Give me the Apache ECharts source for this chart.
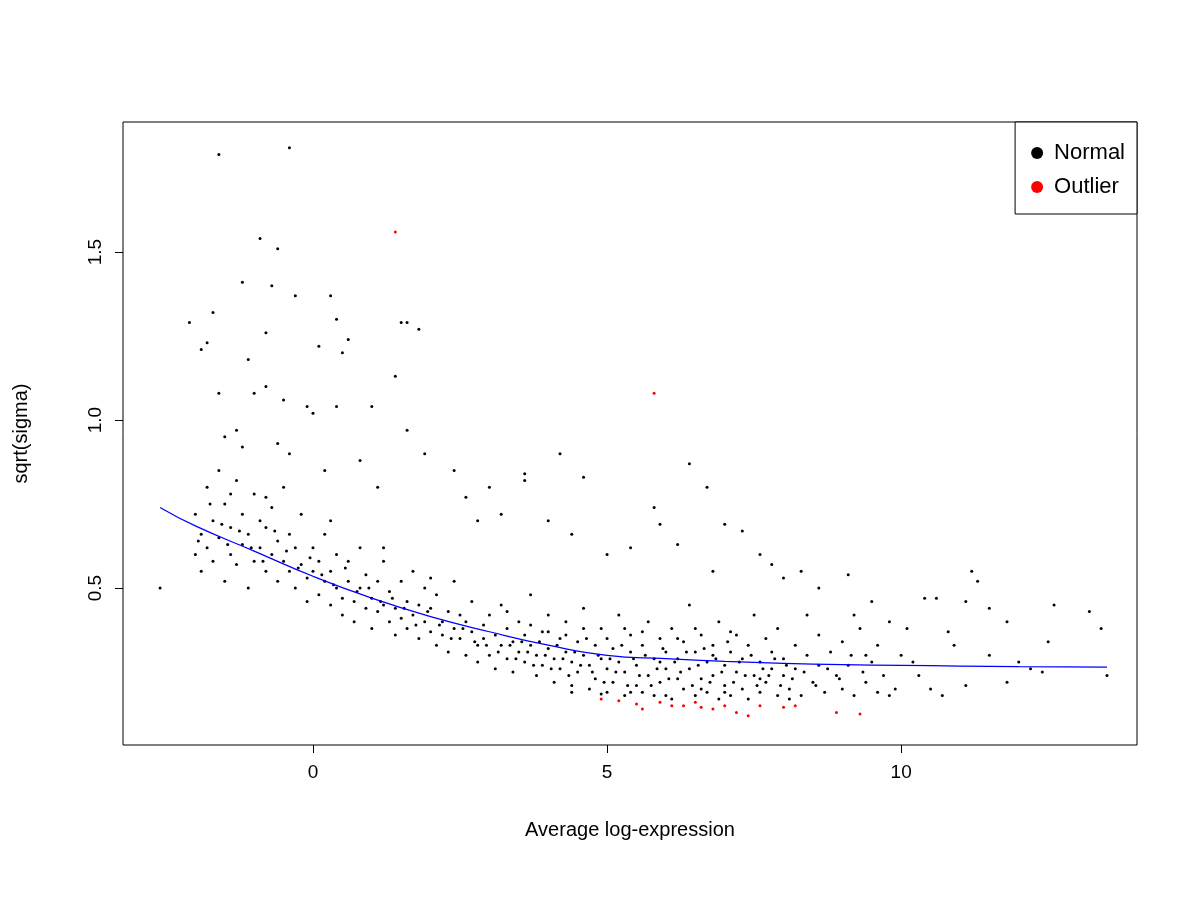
<!DOCTYPE html><html><head><meta charset="utf-8"><script src="https://cdn.jsdelivr.net/npm/echarts@6/dist/echarts.min.js"></script>
<style>body{margin:0}#c{width:1200px;height:900px}</style></head><body><div id="c"></div><script>
const xTicks=[0,5,10];
const yTicks=[0.5,1.0,1.5];
const normalSparse=[[-1.6,1.79],[-0.4,1.81],[-0.9,1.54],[-0.6,1.51],[-1.2,1.41],[-0.7,1.40],[-0.3,1.37],[0.3,1.37],[-2.1,1.29],[-1.7,1.32],[-1.9,1.21],[-1.8,1.23],[-1.1,1.18],[-0.8,1.26],[0.4,1.30],[0.6,1.24],[0.1,1.22],[0.5,1.20],[1.5,1.29],[1.6,1.29],[1.8,1.27],[1.4,1.13],[-1.6,1.08],[-0.8,1.10],[-1.0,1.08],[-0.5,1.06],[-0.1,1.04],[0,1.02],[0.4,1.04],[1.0,1.04],[1.6,0.97],[3.6,0.84],[3.6,0.82],[4.2,0.90],[4.6,0.83],[6.4,0.87],[6.7,0.80],[5.8,0.74],[6.2,0.63],[5.9,0.69],[7.0,0.69],[7.3,0.67],[7.6,0.60],[8.3,0.55],[8.0,0.53],[9.1,0.54],[9.5,0.46],[10.4,0.47],[10.6,0.47],[11.2,0.55],[11.3,0.52],[11.1,0.46],[11.5,0.44],[11.8,0.40],[12.6,0.45],[13.2,0.43],[13.4,0.38],[12.5,0.34],[12.0,0.28],[11.8,0.22],[13.5,0.24],[12.4,0.25],[10.5,0.20],[10.7,0.18],[11.1,0.21],[9.6,0.19],[9.9,0.20],[10.2,0.28],[10.9,0.33],[11.5,0.30],[12.2,0.26],[-2.6,0.50],[-1.5,0.95],[-1.3,0.97],[-1.2,0.92],[-0.6,0.93],[-0.4,0.90],[0.2,0.85],[0.8,0.88],[1.1,0.80],[1.9,0.90],[2.4,0.85],[2.6,0.77],[3.0,0.80],[3.2,0.72],[2.8,0.70],[4.0,0.70],[4.4,0.66],[5.0,0.60],[5.4,0.62],[6.8,0.55],[7.8,0.57],[8.6,0.50],[9.2,0.42],[9.8,0.40],[10.1,0.38],[10.8,0.37],[9.4,0.30]];
const normalDense=[
[-2.0,0.60],[-2.0,0.72],[-1.9,0.66],[-1.9,0.55],[-1.8,0.80],[-1.8,0.62],[-1.7,0.70],[-1.7,0.58],[-1.6,0.85],[-1.6,0.65],[-1.5,0.75],[-1.5,0.52],[-1.4,0.68],[-1.4,0.60],[-1.3,0.82],[-1.3,0.57],[-1.2,0.72],[-1.2,0.63],[-1.1,0.66],[-1.1,0.50],[-1.0,0.78],[-1.0,0.58],[-0.9,0.62],[-0.9,0.70],[-0.8,0.55],[-0.8,0.68],[-0.7,0.60],[-0.7,0.74],[-0.6,0.52],[-0.6,0.64],[-0.5,0.58],[-0.5,0.80],[-0.4,0.55],[-0.4,0.66],[-0.3,0.50],[-0.3,0.62],[-0.2,0.57],[-0.2,0.72],[-0.1,0.53],[-0.1,0.46],[0.0,0.55],[0.0,0.62],[0.1,0.48],[0.1,0.58],[0.2,0.52],[0.2,0.66],[0.3,0.45],[0.3,0.55],[0.4,0.50],[0.4,0.60],[0.5,0.47],[0.5,0.42],[0.6,0.52],[0.6,0.58],[0.7,0.46],[0.7,0.40],[0.8,0.50],[0.8,0.62],[0.9,0.44],[0.9,0.54],[1.0,0.47],[1.0,0.38],[1.1,0.52],[1.1,0.43],[1.2,0.45],[1.2,0.58],[1.3,0.40],[1.3,0.49],[1.4,0.44],[1.4,0.36],[1.5,0.52],[1.5,0.41],[1.6,0.46],[1.6,0.38],[1.7,0.42],[1.7,0.55],[1.8,0.35],[1.8,0.45],[1.9,0.40],[1.9,0.50],[2.0,0.37],[2.0,0.44],[2.1,0.33],[2.1,0.48],[2.2,0.40],[2.2,0.36],[2.3,0.43],[2.3,0.31],[2.4,0.38],[2.4,0.52],[2.5,0.35],[2.5,0.42],[2.6,0.30],[2.6,0.40],[2.7,0.37],[2.7,0.46],[2.8,0.33],[2.8,0.28],[2.9,0.39],[2.9,0.35],[3.0,0.30],[3.0,0.42],[3.1,0.36],[3.1,0.26],[3.2,0.33],[3.2,0.45],[3.3,0.29],[3.3,0.38],[3.4,0.34],[3.4,0.25],[3.5,0.40],[3.5,0.31],[3.6,0.28],[3.6,0.36],[3.7,0.33],[3.7,0.48],[3.8,0.24],[3.8,0.30],[3.9,0.37],[3.9,0.27],[4.0,0.32],[4.0,0.42],[4.1,0.22],[4.1,0.29],[4.2,0.35],[4.2,0.26],[4.3,0.31],[4.3,0.40],[4.4,0.21],[4.4,0.28],[4.5,0.34],[4.5,0.25],[4.6,0.30],[4.6,0.44],[4.7,0.20],[4.7,0.27],[4.8,0.33],[4.8,0.23],[4.9,0.29],[4.9,0.38],[5.0,0.19],[5.0,0.26],[5.1,0.32],[5.1,0.22],[5.2,0.28],[5.2,0.42],[5.3,0.18],[5.3,0.25],[5.4,0.31],[5.4,0.36],[5.5,0.21],[5.5,0.27],[5.6,0.33],[5.6,0.19],[5.7,0.24],[5.7,0.40],[5.8,0.29],[5.8,0.18],[5.9,0.35],[5.9,0.22],[6.0,0.26],[6.0,0.31],[6.1,0.17],[6.1,0.38],[6.2,0.23],[6.2,0.29],[6.3,0.20],[6.3,0.34],[6.4,0.26],[6.4,0.45],[6.5,0.18],[6.5,0.31],[6.6,0.23],[6.6,0.36],[6.7,0.28],[6.7,0.19],[6.8,0.33],[6.8,0.24],[6.9,0.17],[6.9,0.40],[7.0,0.27],[7.0,0.21],[7.1,0.31],[7.1,0.18],[7.2,0.25],[7.2,0.36],[7.3,0.20],[7.3,0.29],[7.4,0.33],[7.4,0.17],[7.5,0.24],[7.5,0.42],[7.6,0.28],[7.6,0.19],[7.7,0.35],[7.7,0.22],[7.8,0.26],[7.8,0.31],[7.9,0.18],[7.9,0.38],[8.0,0.24],[8.0,0.29],[8.1,0.20],[8.2,0.33],[8.2,0.26],[8.3,0.18],[8.4,0.30],[8.4,0.42],[8.5,0.22],[8.6,0.27],[8.6,0.36],[8.7,0.19],[8.8,0.31],[8.9,0.24],[9.0,0.34],[9.0,0.20],[9.1,0.27],[9.2,0.18],[9.3,0.38],[9.4,0.22],[9.5,0.28],[9.6,0.33],[9.7,0.24],[9.8,0.18],[10.0,0.30],[10.3,0.24]
];
const normalCore=[
[-1.95,0.64],[-1.75,0.75],[-1.55,0.69],[-1.45,0.63],[-1.25,0.67],[-1.05,0.62],[-0.85,0.58],[-0.65,0.67],[-0.45,0.61],[-0.25,0.56],[-0.05,0.59],[0.15,0.54],[0.35,0.51],[0.55,0.56],[0.75,0.49],[0.95,0.50],[1.15,0.46],[1.35,0.47],[1.55,0.44],[1.75,0.39],[1.95,0.43],[2.15,0.39],[2.35,0.35],[2.55,0.38],[2.75,0.34],[2.95,0.33],[3.15,0.31],[3.35,0.33],[3.45,0.29],[3.55,0.34],[3.65,0.31],[3.75,0.27],[3.85,0.34],[3.95,0.30],[4.05,0.26],[4.15,0.33],[4.25,0.29],[4.35,0.24],[4.45,0.31],[4.55,0.27],[4.65,0.35],[4.75,0.25],[4.85,0.30],[4.95,0.22],[5.05,0.29],[5.15,0.25],[5.25,0.33],[5.35,0.21],[5.45,0.29],[5.55,0.24],[5.65,0.30],[5.75,0.21],[5.85,0.26],[5.95,0.32],[6.05,0.23],[6.15,0.28],[6.25,0.25],[6.35,0.31],[6.45,0.21],[6.55,0.27],[6.65,0.32],[6.75,0.22],[6.85,0.29],[6.95,0.25],[7.05,0.34],[7.15,0.22],[7.25,0.28],[7.35,0.24],[7.45,0.30],[7.55,0.21],[7.65,0.26],[7.75,0.24],[7.85,0.29],[7.95,0.21],[8.05,0.27],[8.15,0.23],[8.35,0.25],[8.55,0.21],[8.75,0.26],[8.95,0.23],[9.15,0.30],[9.35,0.25],[5.0,0.35],[5.3,0.38],[5.6,0.37],[5.9,0.28],[6.2,0.35],[6.5,0.38],[6.8,0.30],[7.1,0.37],[4.3,0.36],[4.6,0.38],[4.0,0.37],[3.7,0.39],[4.4,0.19],[4.9,0.185],[5.4,0.19],[6.0,0.18],[6.6,0.20],[7.0,0.19],[7.6,0.23],[8.1,0.17],[3.3,0.43],[2.0,0.53],[1.2,0.62],[0.3,0.70],[-0.8,0.77],[-1.4,0.78]
];
const outliers=[[1.4,1.56],[5.8,1.08],[4.9,0.17],[5.2,0.165],[5.5,0.155],[5.6,0.14],[5.9,0.16],[6.1,0.15],[6.3,0.15],[6.5,0.16],[6.6,0.145],[6.8,0.14],[7.0,0.15],[7.2,0.13],[7.4,0.12],[7.6,0.15],[8.0,0.145],[8.2,0.15],[8.9,0.13],[9.3,0.125]];
const trendX=[-2.6,-2,-1,0,1,2,3,4,5,6,7,8,9,10,11,12,13.5];
const trendY=[0.74,0.685,0.61,0.535,0.47,0.415,0.37,0.33,0.30,0.29,0.282,0.276,0.272,0.27,0.268,0.266,0.265];
const font='Liberation Sans';
const ch=echarts.init(document.getElementById('c'));
ch.setOption({
 animation:false,backgroundColor:'#fff',
 grid:{left:123,right:63,top:122,bottom:155,show:true,borderColor:'#000',borderWidth:1},
 xAxis:{type:'value',min:-3.23,max:14.01,
  name:'Average log-expression',nameLocation:'middle',nameGap:75,nameTextStyle:{fontFamily:font,fontSize:20,color:'#000'},
  axisLine:{onZero:false,show:false},splitLine:{show:false},
  axisTick:{show:true,length:8,lineStyle:{color:'#000'},customValues:xTicks},
  axisLabel:{fontFamily:font,fontSize:19,color:'#000',margin:18,customValues:xTicks}},
 yAxis:{type:'value',min:0.033,max:1.887,
  name:'sqrt(sigma)',nameLocation:'middle',nameGap:92,nameTextStyle:{fontFamily:font,fontSize:20,color:'#000'},
  axisLine:{onZero:false,show:false},splitLine:{show:false},
  axisTick:{show:true,length:8,lineStyle:{color:'#000'},customValues:yTicks},
  axisLabel:{fontFamily:font,fontSize:19,color:'#000',rotate:90,margin:18,customValues:yTicks,formatter:v=>v.toFixed(1)}},
 legend:{right:63,top:122,orient:'vertical',itemWidth:12,itemHeight:12,itemGap:12,padding:[20,12,16,16],
  borderColor:'#000',borderWidth:1,backgroundColor:'#fff',textStyle:{fontFamily:font,fontSize:22,color:'#000',padding:[0,0,0,6]},
  data:[{name:'Normal',icon:'circle',itemStyle:{color:'#000',opacity:1}},{name:'Outlier',icon:'circle',itemStyle:{color:'#ff0000',opacity:1}}]},
 series:[
  {name:'Normal',type:'scatter',symbolSize:3,itemStyle:{color:'#000',opacity:1},data:normalSparse.concat(normalDense,normalCore)},
  {name:'Outlier',type:'scatter',symbolSize:3,itemStyle:{color:'#ff0000',opacity:1},data:outliers},
  {name:'trend',type:'line',smooth:true,showSymbol:false,lineStyle:{color:'#0000ff',width:1.2},data:trendX.map((x,i)=>[x,trendY[i]])}
 ]
});
</script></body></html>
